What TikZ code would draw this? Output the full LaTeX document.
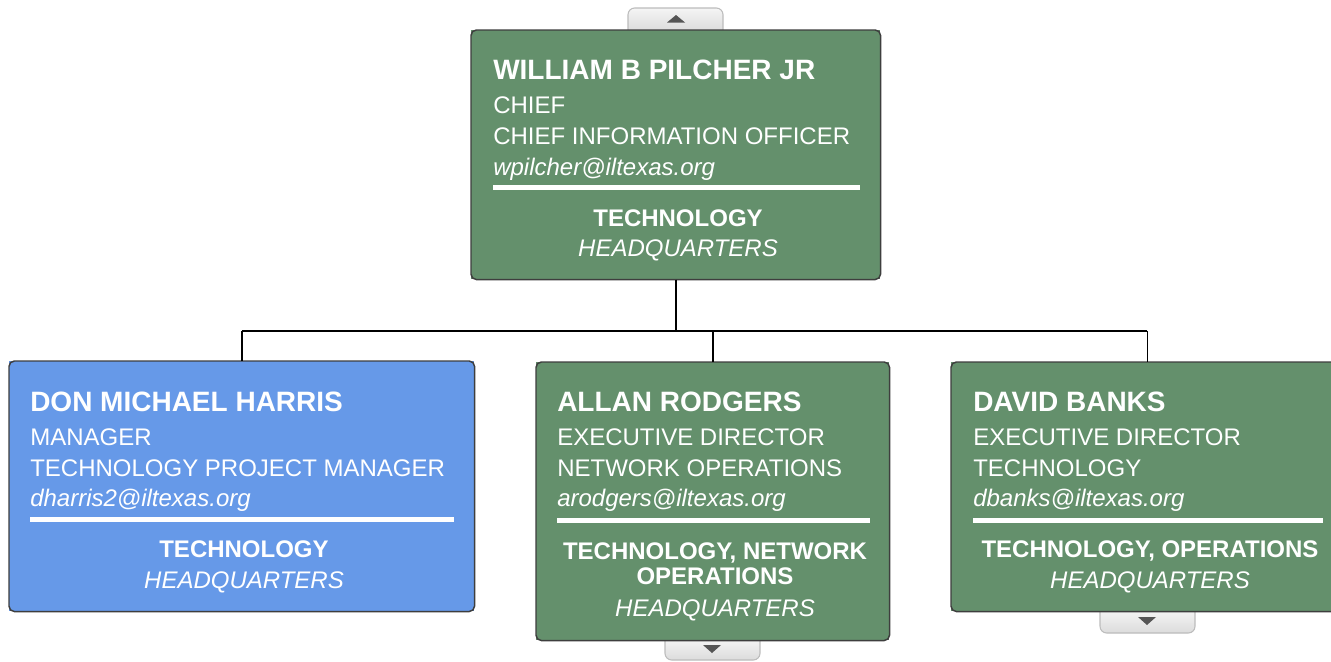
\documentclass[tikz,border=0pt]{standalone}
\usepackage{fontspec}
\setmainfont{Liberation Sans}
\usetikzlibrary{positioning,calc}

\definecolor{cardgreen}{RGB}{100,144,108}
\definecolor{cardblue}{RGB}{102,153,232}
\definecolor{cardedge}{RGB}{62,62,62}
\definecolor{tabedge}{RGB}{188,188,188}
\definecolor{tabarrow}{RGB}{85,85,85}

\tikzset{
  card/.style={rectangle, inner sep=0pt, anchor=north west},
  cardframe/.style={draw=cardedge, line width=1.1pt, rounded corners=4pt},
  personname/.style={anchor=base west, inner sep=0pt, text=white, font=\fontsize{21}{25}\selectfont\bfseries},
  info/.style={anchor=base west, inner sep=0pt, text=white, font=\fontsize{18}{22}\selectfont},
  mail/.style={info, font=\fontsize{18}{22}\selectfont\itshape},
  dept/.style={anchor=base, inner sep=0pt, text=white, font=\fontsize{18}{22}\selectfont\bfseries},
  site/.style={anchor=base, inner sep=0pt, text=white, font=\fontsize{18}{22}\selectfont\itshape},
  rulebar/.style={white, line width=3.75pt},
  wire/.style={black, line width=1.1pt},
  tab/.style={draw=tabedge, line width=0.8pt, top color=white!96!black, bottom color=white!86!black},
}

\begin{document}
\begin{tikzpicture}[x=0.75pt, y=-0.75pt]
\useasboundingbox (0,0) rectangle (1331,661);

% expand / collapse tabs
\draw[tab, rounded corners=5pt] (628,31) -- (628,8) -- (723,8) -- (723,31);
\draw[tab, rounded corners=5pt] (665,639) -- (665,660) -- (760,660) -- (760,639);
\draw[tab, rounded corners=5pt] (1100,610) -- (1100,633) -- (1195,633) -- (1195,610);
\fill[tabarrow] (667,22.5) -- (685,22.5) -- (676,15) -- cycle;
\fill[tabarrow] (703,645) -- (721,645) -- (712,653) -- cycle;
\fill[tabarrow] (1138,617) -- (1156,617) -- (1147,625) -- cycle;

% cards
\node[card, fill=cardgreen, minimum width=306.75pt, minimum height=186.75pt] (chief) at (471,30) {};
\node[card, fill=cardblue, minimum width=348.75pt, minimum height=187.5pt] (harris) at (9,361) {};
\node[card, fill=cardgreen, minimum width=264.75pt, minimum height=208.5pt] (rodgers) at (536,362) {};
\node[card, fill=cardgreen, minimum width=294pt, minimum height=186.75pt] (banks) at (951,362) {};
\foreach \c in {chief,harris,rodgers,banks}
  \draw[cardframe] (\c.south west) rectangle (\c.north east);

% connectors
\coordinate (split) at (676,331);
\draw[wire] (chief.south) -- (chief.south |- split);
\draw[wire] (harris.north |- split) -- (banks.north |- split);
\foreach \c in {harris,rodgers,banks}
  \draw[wire] (\c.north |- split) -- (\c.north);

% top card
\node[personname] (chiefname) at (493,79) {WILLIAM B PILCHER JR};
\node[info] (chiefrank) at (493,113) {CHIEF};
\node[info] (chieftitle) at (493,144) {CHIEF INFORMATION OFFICER};
\node[mail] (chiefmail) at (493,175) {wpilcher@iltexas.org};
\draw[rulebar] (493,187.5) -- (860,187.5);
\node[dept] (chiefdept) at (678,226) {TECHNOLOGY};
\node[site] (chiefsite) at (678,256) {HEADQUARTERS};

% left card
\node[personname] (harrisname) at (30,411) {DON MICHAEL HARRIS};
\node[info] (harrisrank) at (30,445) {MANAGER};
\node[info] (harristitle) at (30,476) {TECHNOLOGY PROJECT MANAGER};
\node[mail] (harrismail) at (30,506) {dharris2@iltexas.org};
\draw[rulebar] (30,519.5) -- (454,519.5);
\node[dept] (harrisdept) at (244,557) {TECHNOLOGY};
\node[site] (harrissite) at (244,588) {HEADQUARTERS};

% middle card
\node[personname] (rodgersname) at (557,411) {ALLAN RODGERS};
\node[info] (rodgersrank) at (557,445) {EXECUTIVE DIRECTOR};
\node[info] (rodgerstitle) at (557,476) {NETWORK OPERATIONS};
\node[mail] (rodgersmail) at (557,506) {arodgers@iltexas.org};
\draw[rulebar] (557,520) -- (870,520);
\node[dept] (rodgersdept) at (715,559) {TECHNOLOGY, NETWORK};
\node[dept] (rodgersdeptb) at (715,584) {OPERATIONS};
\node[site] (rodgerssite) at (715,616) {HEADQUARTERS};

% right card
\node[personname] (banksname) at (973,411) {DAVID BANKS};
\node[info] (banksrank) at (973,445) {EXECUTIVE DIRECTOR};
\node[info] (bankstitle) at (973,476) {TECHNOLOGY};
\node[mail] (banksmail) at (973,506) {dbanks@iltexas.org};
\draw[rulebar] (973,520) -- (1323,520);
\node[dept] (banksdept) at (1150,557) {TECHNOLOGY, OPERATIONS};
\node[site] (bankssite) at (1150,588) {HEADQUARTERS};
\end{tikzpicture}
\end{document}
